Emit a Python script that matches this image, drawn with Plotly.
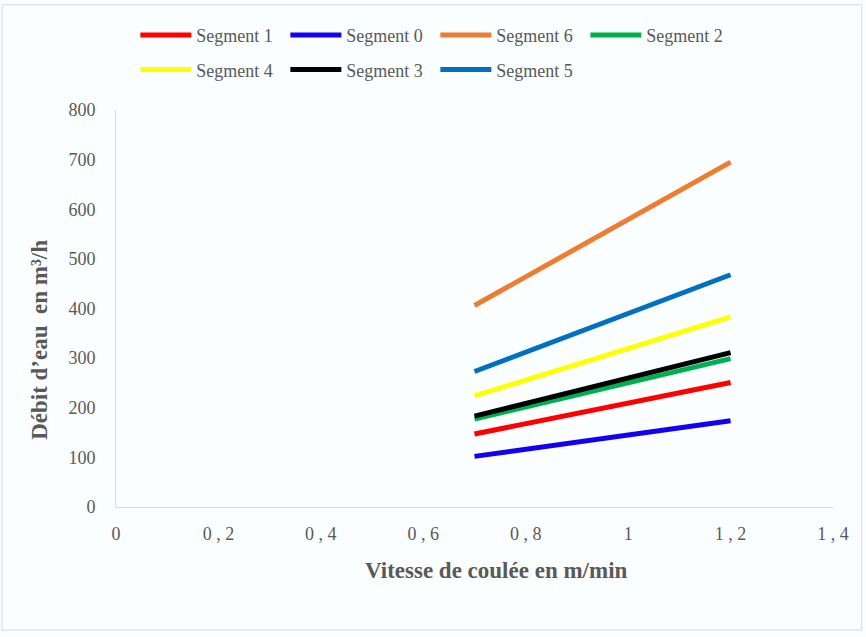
import plotly.graph_objects as go

# Casting speed (m/min) at the two operating points
vitesse = [0.7, 1.2]

# Water flow per segment (m³/h)
segment_1 = [147, 251]
segment_0 = [102, 174]
segment_6 = [406, 695]
segment_2 = [177, 299]
segment_4 = [224, 383]
segment_3 = [183, 311]
segment_5 = [273, 468]

series = [
    ("Segment 1", segment_1, "#FF0000", "legend"),
    ("Segment 0", segment_0, "#1400F0", "legend"),
    ("Segment 6", segment_6, "#ED7D31", "legend"),
    ("Segment 2", segment_2, "#00B050", "legend"),
    ("Segment 4", segment_4, "#FFFF00", "legend2"),
    ("Segment 3", segment_3, "#000000", "legend2"),
    ("Segment 5", segment_5, "#0070C0", "legend2"),
]

x_ticks = [0, 0.2, 0.4, 0.6, 0.8, 1.0, 1.2, 1.4]
x_tick_labels = ["0", "0 , 2", "0 , 4", "0 , 6", "0 , 8", "1", "1 , 2", "1 , 4"]
y_ticks = [0, 100, 200, 300, 400, 500, 600, 700, 800]

x_title = "Vitesse de coulée en m/min"
y_title = "Débit d’eau  en m³/h"

FONT = "Liberation Serif"
GREY = "#595959"

fig = go.Figure()
for name, values, color, leg in series:
    fig.add_trace(go.Scatter(
        x=vitesse, y=values, mode="lines", name=name,
        line=dict(color=color, width=5),
        legend=leg,
    ))

legend_common = dict(
    orientation="h",
    xanchor="left", yanchor="middle",
    font=dict(family=FONT, size=18, color=GREY),
    bgcolor="rgba(0,0,0,0)",
    entrywidth=84, entrywidthmode="pixels",
    itemwidth=51,
    traceorder="normal",
)

fig.update_layout(
    width=866, height=637,
    margin=dict(l=116, r=33, t=110, b=130),
    paper_bgcolor="#FBFEFE",
    plot_bgcolor="#FBFEFE",
    font=dict(family=FONT, color=GREY),
    showlegend=True,
    legend=dict(x=0.027, y=1.188, **legend_common),
    legend2=dict(x=0.027, y=1.101, **legend_common),
    xaxis=dict(
        range=[0, 1.4],
        tickvals=x_ticks, ticktext=x_tick_labels,
        tickfont=dict(family=FONT, size=18, color=GREY),
        showgrid=False, zeroline=False,
        showline=True, linecolor="#D9D9D9", linewidth=1,
        ticks="", ticklabelstandoff=10,
    ),
    yaxis=dict(
        range=[0, 800],
        tickvals=y_ticks,
        tickfont=dict(family=FONT, size=18, color=GREY),
        showgrid=False, zeroline=False,
        showline=True, linecolor="#D9D9D9", linewidth=1,
        ticks="", ticklabelstandoff=16,
    ),
    annotations=[
        dict(text=f"<b>{x_title}</b>", xref="paper", yref="paper",
             x=0.531, y=-0.161, xanchor="center", yanchor="middle",
             showarrow=False, font=dict(family=FONT, size=23, color=GREY)),
        dict(text=f"<b>{y_title}</b>", xref="paper", yref="paper",
             x=-0.106, y=0.421, xanchor="center", yanchor="middle",
             textangle=-90, showarrow=False,
             font=dict(family=FONT, size=23, color=GREY)),
    ],
    shapes=[dict(
        type="rect", xref="paper", yref="paper",
        x0=-0.159, x1=1.04, y0=-0.31, y1=1.265,
        line=dict(color="#D9D9D9", width=1),
        fillcolor="rgba(0,0,0,0)", layer="below",
    )],
)

fig.write_html("out.html")
